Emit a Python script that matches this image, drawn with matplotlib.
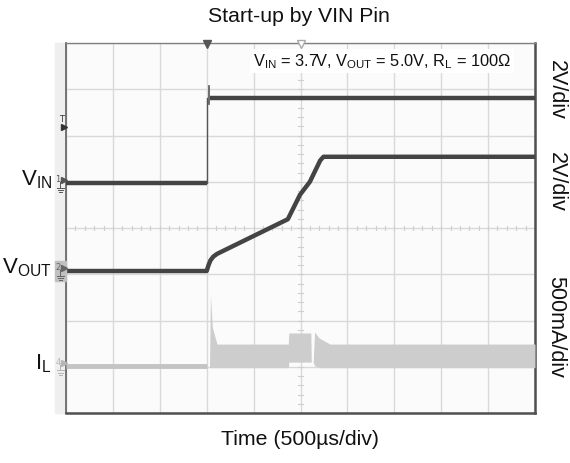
import numpy as np
import matplotlib
matplotlib.use("Agg")
import matplotlib.pyplot as plt
from matplotlib.patches import Rectangle

plt.rcParams['font.family'] = ['Liberation Sans', 'DejaVu Sans']

# scope traces, in divisions (x: 0..10, y: 0..8 from bottom)
vin_low_x = [0.0, 3.0]
vin_low_y = [4.97, 4.97]
vin_high_x = [3.06, 10.0]
vin_high_y = [6.81, 6.81]
vin_glitch_x = [3.05, 3.05]
vin_glitch_y = [6.68, 7.06]

vout_x = [0.0, 3.0, 3.04, 3.08, 3.14, 3.22, 4.73, 4.99, 5.20, 5.42, 5.49, 10.0]
vout_y = [3.07, 3.07, 3.20, 3.30, 3.38, 3.44, 4.19, 4.72, 5.00, 5.46, 5.54, 5.54]

il_base_x = [0.0, 3.0]
il_base_y = [1.02, 1.02]
il_x = [3.06, 3.08, 3.12, 3.22, 4.74, 4.75, 5.22, 5.23, 5.27, 5.30, 5.40, 5.63, 10.0]
il_hi = [1.02, 2.57, 1.85, 1.49, 1.49, 1.73, 1.73, 1.10, 1.10, 1.75, 1.62, 1.49, 1.49]
il_lo = [0.98, 0.98, 0.98, 0.98, 0.98, 1.10, 1.10, 1.10, 1.10, 1.02, 0.98, 0.98, 0.98]

scales = ["2V/div", "2V/div", "500mA/div"]
scale_y = [90, 182, 327]  # pixel rows of the right-hand labels

fig = plt.figure(figsize=(5.7, 4.64), dpi=100)
ax = fig.add_axes([66 / 570, 1 - 414 / 464, 469 / 570, 370 / 464])
ax.set_xlim(0, 10)
ax.set_ylim(0, 8)
ax.set_facecolor('#fbfbfb')

# light strip left of the scope screen
ax.add_patch(Rectangle((-11 / 46.9, 0), 11 / 46.9, 8, color='#efefef',
                       clip_on=False, zorder=0.5))

ax.set_xticks(range(11))
ax.set_yticks(range(9))
ax.tick_params(length=0, labelbottom=False, labelleft=False)
ax.grid(True, color='#d9d9d9', lw=1)
ax.set_axisbelow(True)

# small ticks on the centre lines
for t in np.arange(0, 10.01, 0.2):
    ax.plot([t, t], [3.95, 4.05], color='#cfcfcf', lw=0.8, zorder=1)
for t in np.arange(0, 8.01, 0.2):
    ax.plot([4.95, 5.05], [t, t], color='#cfcfcf', lw=0.8, zorder=1)

for s, c, w in [('left', '#606060', 1.2), ('top', '#808080', 1.0),
                ('right', '#505050', 1.8), ('bottom', '#505050', 1.8)]:
    ax.spines[s].set_color(c)
    ax.spines[s].set_linewidth(w)

# current trace (light grey band)
ax.plot(il_base_x, il_base_y, color='#c4c4c4', lw=3.5, solid_capstyle='butt', zorder=3)
ax.fill_between(il_x, il_lo, il_hi, color='#cdcdcd', lw=0, zorder=3)

# VIN
ax.plot(vin_low_x, vin_low_y, color='#444444', lw=3.2, solid_capstyle='butt', zorder=4)
ax.plot([3.0, 3.0], [4.97, 6.81], color='#555555', lw=1.0, zorder=4)
ax.plot(vin_high_x, vin_high_y, color='#444444', lw=3.2, solid_capstyle='butt', zorder=4)
ax.plot(vin_glitch_x, vin_glitch_y, color='#555555', lw=1.2, zorder=4)

# VOUT
ax.plot(vout_x, vout_y, color='#444444', lw=3.2, solid_capstyle='butt', zorder=4)

# trigger markers on top edge
ax.plot(3.0, 7.98, marker='v', ms=6, color='#555555', clip_on=False, zorder=6)
ax.plot(5.0, 7.98, marker='v', ms=6, mfc='white', mec='#aaaaaa', clip_on=False, zorder=6)
ax.plot(-0.05, 6.18, marker='>', ms=4.5, color='#333333', clip_on=False, zorder=6)
ax.text(-0.09, 6.26, 'T', fontsize=6, color='#333333', ha='center', va='bottom',
        family='DejaVu Sans', zorder=7)


def channel_mark(y, num, col, box=False):
    if box:
        ax.add_patch(Rectangle((-0.235, y - 0.22), 0.235, 0.44, color='#c0c0c0',
                               clip_on=False, zorder=5))
    ax.plot(-0.05, y + 0.06, marker='>', ms=4.5, color=col, clip_on=False, zorder=6)
    ax.text(-0.17, y + 0.1, num, fontsize=6, color=col, ha='center', va='center',
            family='DejaVu Sans', zorder=7)
    ax.plot([-0.12, -0.12], [y + 0.02, y - 0.1], color=col, lw=0.7, clip_on=False, zorder=7)
    for dx, dy in [(0.08, -0.1), (0.05, -0.15), (0.025, -0.2)]:
        ax.plot([-0.12 - dx, -0.12 + dx], [y + dy, y + dy], color=col, lw=0.7,
                clip_on=False, zorder=7)


channel_mark(4.97, '1', '#555555')
channel_mark(3.07, '2', '#666666', box=True)
channel_mark(1.02, '4', '#b5b5b5')

lab_kw = dict(fontsize=16, ha='right', va='baseline', color='#111111')
ax.text(-0.3, 4.95, r'V$_{\mathregular{IN}}$', **lab_kw)
ax.text(-0.3, 3.05, r'V$_{\mathregular{OUT}}$', **lab_kw)
ax.text(-0.3, 0.97, r'I$_{\mathregular{L}}$', **lab_kw)

ax.text(3.98, 7.61,
        r'V$_{\mathregular{IN}}$ = 3.7V, V$_{\mathregular{OUT}}$ = 5.0V, R$_{\mathregular{L}}$ = 100Ω',
        fontsize=11.8, ha='left', va='center', color='#111111',
        bbox=dict(facecolor='white', edgecolor='none', pad=2), zorder=8)

fig.text(299 / 570, 1 - 16 / 464, 'Start-up by VIN Pin', fontsize=15.3,
         ha='center', va='center', color='#111111')
fig.text(300 / 570, 1 - 440 / 464, 'Time (500µs/div)', fontsize=15.3,
         ha='center', va='center', color='#111111')
for lab, py in zip(scales, scale_y):
    fig.text(556 / 570, 1 - py / 464, lab, fontsize=15.5, rotation=-90,
             ha='center', va='center', color='#111111')

fig.savefig('out.png', dpi=100, facecolor='white')
